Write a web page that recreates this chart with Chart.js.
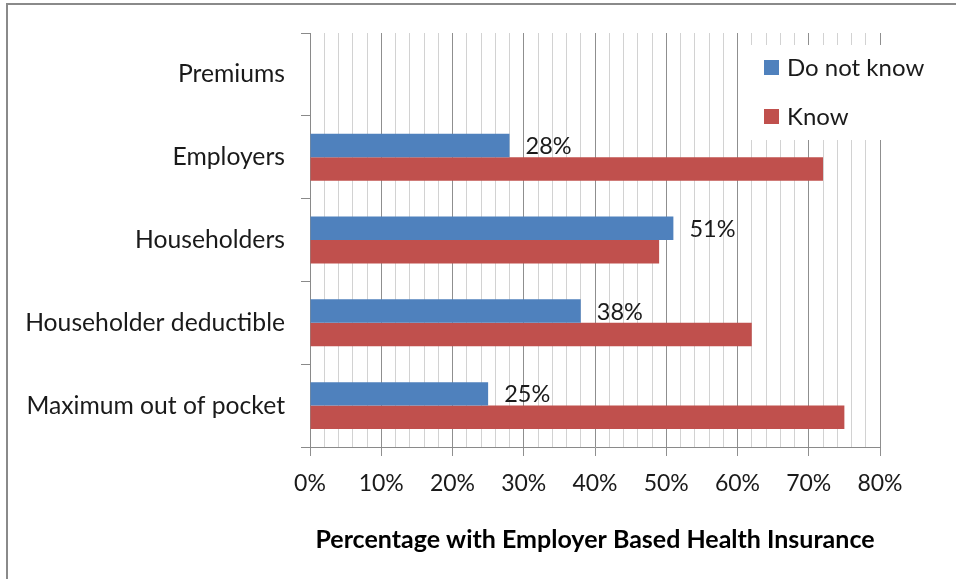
<!DOCTYPE html>
<html>
<head>
<meta charset="utf-8">
<script src="https://cdn.jsdelivr.net/npm/chart.js@4"></script>
<style>
    html, body { margin: 0; padding: 0; background: #fff; overflow: hidden; }
    #frame {
        position: absolute; left: 6px; top: 3px; width: 2000px; height: 2000px;
        border-left: 2px solid #8a8a8a; border-top: 2px solid #8a8a8a;
    }
    #myChart { position: absolute; left: 0; top: 0; }
</style>
</head>
<body>
<div id="frame"></div>
<canvas id="myChart" width="956" height="579"></canvas>
<script>
// categories top to bottom
const categories = ['Premiums', 'Employers', 'Householders', 'Householder deductible', 'Maximum out of pocket'];
// percent of respondents
const doNotKnow = [null, 28, 51, 38, 25];
const know = [null, 72, 49, 62, 75];
const xTicks = [0, 10, 20, 30, 40, 50, 60, 70, 80];

const FONT = 'Lato, "Noto Sans", sans-serif';
const TEXT = '#1a1a1a';

// blank out the gridlines behind the legend, then draw the legend itself
const legendBox = {
    id: 'legendBox',
    beforeDatasetsDraw(chart) {
        const ctx = chart.ctx;
        ctx.save();
        ctx.fillStyle = '#fff';
        ctx.fillRect(746, 45, chart.chartArea.right - 746 + 2, 95);
        ctx.restore();
    },
    afterDraw(chart) {
        const ctx = chart.ctx;
        ctx.save();
        ctx.font = '24px ' + FONT;
        ctx.textBaseline = 'middle';
        chart.data.datasets.forEach((ds, i) => {
            const y = 68 + i * 49;
            ctx.fillStyle = ds.backgroundColor;
            ctx.fillRect(764, y - 8, 15, 15);
            ctx.fillStyle = TEXT;
            ctx.fillText(ds.label, 787, y);
        });
        ctx.restore();
    }
};

// value labels to the right of the "Do not know" bars
const barLabels = {
    id: 'barLabels',
    afterDatasetsDraw(chart) {
        const ctx = chart.ctx;
        const meta = chart.getDatasetMeta(0);
        ctx.save();
        ctx.font = '23.5px ' + FONT;
        ctx.fillStyle = TEXT;
        ctx.textBaseline = 'middle';
        ctx.textAlign = 'left';
        meta.data.forEach((bar, i) => {
            const v = chart.data.datasets[0].data[i];
            if (v == null) return;
            ctx.fillText(v + '%', bar.x + 16, bar.y + 1);
        });
        ctx.restore();
    }
};

const ctx = document.getElementById('myChart').getContext('2d');
new Chart(ctx, {
    type: 'bar',
    data: {
        labels: categories,
        datasets: [
            { label: 'Do not know', data: doNotKnow, backgroundColor: '#4F81BD' },
            { label: 'Know', data: know, backgroundColor: '#C0504D' }
        ]
    },
    options: {
        indexAxis: 'y',
        responsive: false,
        animation: false,
        devicePixelRatio: 1,
        categoryPercentage: 0.567,
        barPercentage: 1.0,
        layout: { padding: { left: 0, right: 76, top: 33, bottom: 0 } },
        scales: {
            x: {
                min: 0,
                max: 80,
                afterFit: s => { s.height = 132; },
                afterBuildTicks: s => {
                    const t = [];
                    for (let v = 0; v <= 80; v += 2) t.push({ value: v });
                    s.ticks = t;
                },
                grid: {
                    color: c => xTicks.includes(c.tick.value) ? '#8f8f8f' : '#d2d2d2',
                    tickColor: c => xTicks.includes(c.tick.value) ? '#8f8f8f' : 'rgba(0,0,0,0)',
                    tickLength: 9,
                    lineWidth: 1
                },
                border: { color: '#8a8a8a' },
                ticks: {
                    autoSkip: false,
                    maxRotation: 0,
                    padding: 14,
                    color: TEXT,
                    font: { family: FONT, size: 23 },
                    callback: v => xTicks.includes(v) ? v + '%' : ''
                },
                title: {
                    display: true,
                    text: 'Percentage with Employer Based Health Insurance',
                    color: '#000',
                    font: { family: FONT, size: 25, weight: 'bold' },
                    padding: { top: 0, bottom: 24 }
                }
            },
            y: {
                afterFit: s => { s.width = 310; },
                grid: {
                    offset: true,
                    drawOnChartArea: false,
                    color: '#8a8a8a',
                    tickLength: 9
                },
                border: { color: '#8a8a8a' },
                ticks: {
                    padding: 16,
                    color: TEXT,
                    font: { family: FONT, size: 24.7 }
                }
            }
        },
        plugins: {
            legend: { display: false },
            tooltip: { enabled: false }
        }
    },
    plugins: [legendBox, barLabels]
});
</script>
</body>
</html>
